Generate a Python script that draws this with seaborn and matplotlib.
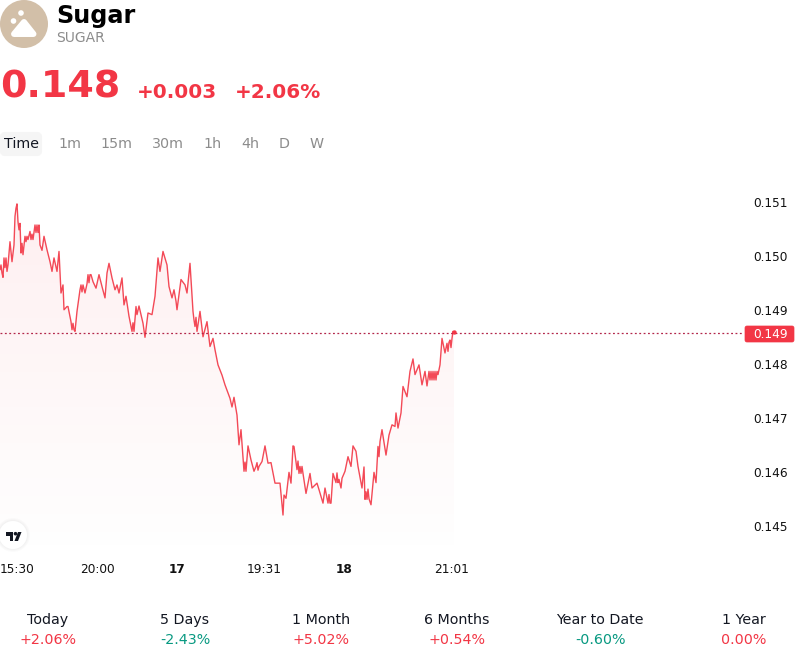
import numpy as np
import pandas as pd
import matplotlib
matplotlib.use("Agg")
import matplotlib.pyplot as plt
from matplotlib.patches import Circle, FancyBboxPatch, Polygon
from matplotlib.transforms import ScaledTranslation
import seaborn as sns

bars = [0, 1, 2, 3, 4, 5, 6, 7, 8, 10, 12, 14, 15, 16, 17, 18, 19, 20, 21, 22,
        23, 25, 26, 27, 28, 30, 31, 32, 33, 35, 36, 37, 38, 39, 40, 42, 44, 47, 50, 52,
        54, 57, 59, 61, 63, 64, 67, 68, 71, 72, 73, 74, 75, 77, 80, 81, 82, 83, 85, 87,
        88, 89, 90, 91, 93, 96, 99, 102, 105, 107, 109, 112, 115, 117, 119, 122, 124, 126, 129, 132,
        133, 134, 136, 137, 139, 143, 145, 148, 152, 155, 158, 160, 163, 167, 169, 172, 174, 176, 177, 181,
        185, 187, 190, 193, 194, 195, 196, 197, 200, 203, 207, 210, 213, 215, 218, 222, 225, 230, 232, 234,
        237, 239, 241, 244, 245, 246, 248, 251, 254, 256, 257, 258, 259, 262, 265, 268, 271, 275, 280, 283,
        284, 286, 289, 291, 293, 294, 297, 298, 299, 300, 301, 302, 303, 306, 310, 312, 317, 319, 323, 325,
        328, 329, 330, 331, 333, 336, 337, 338, 339, 341, 342, 345, 348, 351, 353, 356, 358, 362, 364, 365,
        366, 367, 368, 369, 371, 374, 376, 378, 379, 380, 382, 386, 389, 392, 395, 396, 398, 401, 403, 407,
        410, 413, 415, 419, 422, 425, 427, 429, 430, 431, 432, 433, 434, 435, 436, 437, 438, 440, 442, 445,
        447, 448, 449, 450, 451, 452, 453, 454]
prices = [.14976, .14985, .14970, .14962, .14998, .14980, .14998, .14973, .14985, .15028,
          .14991, .15022, .15075, .15090, .15098, .15065, .15050, .15062, .15007, .15025,
          .15004, .15038, .15028, .15038, .15032, .15047, .15032, .15042, .15032, .15059,
          .15045, .15059, .15045, .15059, .15022, .15012, .15038, .15013, .14991, .14973,
          .14998, .14973, .15010, .14933, .14948, .14902, .14908, .14908, .14880, .14865,
          .14877, .14865, .14862, .14899, .14939, .14948, .14935, .14948, .14933, .14950,
          .14967, .14952, .14967, .14967, .14954, .14942, .14967, .14945, .14924, .14970,
          .14988, .14961, .14939, .14948, .14933, .14961, .14911, .14927, .14890, .14862,
          .14878, .14862, .14908, .14893, .14909, .14877, .14851, .14896, .14893, .14927,
          .14998, .14973, .15010, .14985, .14945, .14924, .14939, .14918, .14902, .14958,
          .14948, .14933, .14988, .14899, .14883, .14871, .14888, .14862, .14899, .14852,
          .14880, .14834, .14849, .14828, .14800, .14781, .14763, .14738, .14722, .14740,
          .14707, .14652, .14680, .14603, .14620, .14603, .14650, .14624, .14603, .14612,
          .14619, .14605, .14612, .14621, .14650, .14618, .14619, .14581, .14581, .14522,
          .14559, .14553, .14601, .14581, .14650, .14649, .14606, .14622, .14599, .14612,
          .14599, .14612, .14599, .14562, .14599, .14572, .14581, .14569, .14544, .14572,
          .14544, .14560, .14544, .14544, .14599, .14582, .14600, .14582, .14588, .14572,
          .14590, .14603, .14630, .14612, .14650, .14640, .14612, .14572, .14611, .14551,
          .14565, .14551, .14570, .14552, .14541, .14601, .14582, .14649, .14630, .14658,
          .14680, .14633, .14670, .14689, .14686, .14711, .14683, .14711, .14760, .14741,
          .14788, .14811, .14782, .14800, .14763, .14788, .14761, .14788, .14772, .14788,
          .14772, .14788, .14772, .14788, .14772, .14788, .14782, .14800, .14849, .14822,
          .14840, .14825, .14842, .14846, .14832, .14849, .14862, .14860]
last_price = 0.14859

y_ticks = [0.151, 0.150, 0.149, 0.148, 0.147, 0.146, 0.145]
time_ticks = [0, 97, 177, 264, 344, 452]
time_labels = ["15:30", "20:00", "17", "19:31", "18", "21:01"]
bold_labels = ["17", "18"]
intervals = ["1m", "15m", "30m", "1h", "4h", "D", "W"]
periods = ["Today", "5 Days", "1 Month", "6 Months", "Year to Date", "1 Year"]
returns = ["+2.06%", "-2.43%", "+5.02%", "+0.54%", "-0.60%", "0.00%"]

RED = "#f23645"
GREEN = "#089981"
GREY = "#8c8c8c"

sns.set_theme(style="white")
plt.rcParams["font.family"] = ["DejaVu Sans"]

df = pd.DataFrame({"bar": bars, "price": prices})

fig = plt.figure(figsize=(8, 6.6), dpi=100)
ax = fig.add_axes([0, 105 / 660, 744 / 800, 390 / 660])
sns.lineplot(data=df, x="bar", y="price", color=RED, lw=1.0, alpha=0.9, estimator=None, ax=ax)
y0, y1 = 0.14448, 0.15170

# pink fade under the line
base = 0.14467
area = ax.fill_between(df["bar"], df["price"], base, color="none", lw=0)
grad = np.ones((256, 1, 4))
grad[..., :3] = matplotlib.colors.to_rgb(RED)
grad[..., 3] = np.linspace(0.08, 0.005, 256)[:, None]
im = ax.imshow(grad, extent=[0, 744, base, max(prices)], aspect="auto", zorder=1)
im.set_clip_path(area.get_paths()[0], transform=ax.transData)
ax.set_xlim(0, 744)
ax.set_ylim(y0, y1)

ax.axhline(last_price, color="#b3264a", lw=0.9, ls=(0, (1.5, 2)))
sns.scatterplot(x=[bars[-1]], y=[prices[-1]], color=RED, s=10, lw=0, ax=ax, zorder=4)

ax.yaxis.tick_right()
ax.set_yticks(y_ticks)
ax.set_yticklabels([f"{t:.3f}" for t in y_ticks])
ax.set_xticks(time_ticks)
ax.set_xticklabels(time_labels)
ax.tick_params(axis="y", length=0, pad=7, labelsize=8.7, labelcolor="#111111")
ax.tick_params(axis="x", length=0, pad=6, labelsize=8.7, labelcolor="#111111")
for lab in ax.get_xticklabels():
    if lab.get_text() in bold_labels:
        lab.set_fontweight("bold")
ax.get_xticklabels()[0].set_ha("left")
# labels sit a pixel higher than the tick in the original
nudge = ScaledTranslation(0, 1 / 100, fig.dpi_scale_trans)
for lab in ax.get_yticklabels():
    lab.set_va("center_baseline")
    lab.set_transform(lab.get_transform() + nudge)
ax.set_xlabel("")
ax.set_ylabel("")
sns.despine(ax=ax, left=True, bottom=True, right=True, top=True)
ax.patch.set_alpha(0)

# page furniture, in pixel coordinates
ui = fig.add_axes([0, 0, 1, 1], zorder=5)
ui.set_xlim(0, 800)
ui.set_ylim(660, 0)
ui.axis("off")

ui.add_patch(Circle((24, 24), 24, color="#d2bfa8", lw=0))
ui.add_patch(Polygon([[24, 22], [33.5, 34], [14, 34]], closed=True, fc="white", ec="white", lw=4.3, joinstyle="round"))
ui.add_patch(Circle((21, 13), 2.8, color="white", lw=0))
ui.add_patch(Circle((13.5, 21), 2.8, color="white", lw=0))

ui.text(56, 16, "Sugar", fontsize=17.2, fontweight="bold", color="black", va="center")
ui.text(56, 38.5, "SUGAR", fontsize=10, color=GREY, va="center")
ui.text(0, 88, "0.148", fontsize=27.4, fontweight="bold", color=RED, va="center")
ui.text(137, 93, "+0.003", fontsize=14.4, fontweight="bold", color=RED, va="center")
ui.text(235, 93, "+2.06%", fontsize=14.4, fontweight="bold", color=RED, va="center")

ui.add_patch(FancyBboxPatch((2, 134), 38, 20, boxstyle="round,pad=0,rounding_size=3", fc="#f5f5f5", ec="#f5f5f5", lw=3))
ui.text(21, 144, "Time", fontsize=10.3, color="#131722", ha="center", va="center")
for label, cx in zip(intervals, [69.5, 116, 168, 212.5, 250, 284.5, 316.5]):
    ui.text(cx, 144, label, fontsize=10.3, color=GREY, ha="center", va="center")

ui.add_patch(FancyBboxPatch((745, 326), 49, 16, boxstyle="round,pad=0,rounding_size=2", fc=RED, ec=RED, lw=0.5))
ui.text(771, 334, "0.149", fontsize=8.7, color="white", ha="center", va="center")

# logo badge with a soft shadow
for r in [17, 16, 15]:
    ui.add_patch(Circle((13, 535), r, color="#000000", alpha=0.015, lw=0))
ui.add_patch(Circle((13, 535), 14, color="white", lw=0))
ui.add_patch(Polygon([[6, 532], [13, 532], [13, 541], [9.5, 541], [9.5, 535.5], [6, 535.5]], closed=True, fc="#131722", lw=0))
ui.add_patch(Circle((15.5, 533.7), 1.8, color="#131722", lw=0))
ui.add_patch(Polygon([[18, 532], [21.5, 532], [18, 541], [14.5, 541]], closed=True, fc="#131722", lw=0))

for name, ret, cx in zip(periods, returns, [48, 185, 321, 457, 600, 744]):
    c = GREEN if ret.startswith("-") else RED
    ui.text(cx, 620, name, fontsize=10.3, color="#131722", ha="center", va="center")
    ui.text(cx, 640, ret, fontsize=10.3, color=c, ha="center", va="center")

fig.savefig("out.png", dpi=100)
